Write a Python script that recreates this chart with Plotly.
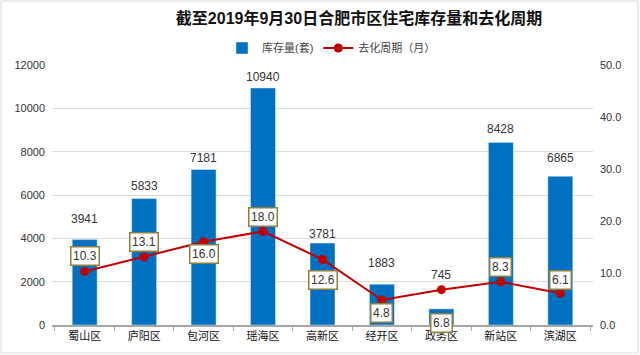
import plotly.graph_objects as go

districts = ["蜀山区", "庐阳区", "包河区", "瑶海区", "高新区", "经开区", "政务区", "新站区", "滨湖区"]
stock = [3941, 5833, 7181, 10940, 3781, 1883, 745, 8428, 6865]
cycle = [10.3, 13.1, 16.0, 18.0, 12.6, 4.8, 6.8, 8.3, 6.1]
left_ticks = [0, 2000, 4000, 6000, 8000, 10000, 12000]
right_ticks = [0, 10, 20, 30, 40, 50]

# pixel offsets of labels relative to their marks (styling only)
stock_label_shift = [21, 13, 11, 11, 9, 21, 34, 13, 18]
cycle_label_shift = [15, 15, -12, 14, -21, -13, -33, 15, 13]

font_family = "Arial, Liberation Sans, Noto Sans CJK SC, sans-serif"

L, R, T, B = 52, 47, 65, 30
W, H = 640, 355
pw, ph = W - L - R, H - T - B

fig = go.Figure()
fig.add_trace(go.Bar(
    x=districts, y=stock, name="库存量(套)",
    marker=dict(color="#0070c0"),
))
fig.add_trace(go.Scatter(
    x=districts, y=cycle, name="去化周期（月）", yaxis="y2",
    mode="lines+markers",
    line=dict(color="#c00000", width=2),
    marker=dict(color="#c00000", size=9),
))

for d, v, s in zip(districts, stock, stock_label_shift):
    fig.add_annotation(
        x=d, y=v, xref="x", yref="y", text=str(v), showarrow=False,
        yshift=s, font=dict(size=12, color="#333333", family=font_family),
    )

for d, v, s in zip(districts, cycle, cycle_label_shift):
    fig.add_annotation(
        x=d, y=v, xref="x", yref="y2", text=f"{v:.1f}", showarrow=False,
        yshift=s,
        font=dict(size=12, color="#333333", family=font_family),
        bgcolor="white", bordercolor="#8c7f3f", borderwidth=1.5, borderpad=1.5,
    )

fig.update_layout(
    width=W, height=H,
    margin=dict(l=L, r=R, t=T, b=B),
    paper_bgcolor="white", plot_bgcolor="white",
    font=dict(family=font_family, color="#333333", size=11),
    title=dict(text="<b>截至2019年9月30日合肥市区住宅库存量和去化周期</b>",
               x=359 / W, xanchor="center", y=1 - 18 / H, yanchor="middle",
               font=dict(size=16, color="#111111")),
    legend=dict(orientation="h", x=(222 - L) / pw, xanchor="left",
                y=(T - 48) / ph + 1, yanchor="middle",
                font=dict(size=11, color="#444444"), itemwidth=30,
                bgcolor="rgba(0,0,0,0)"),
    bargap=0.58,
    showlegend=True,
    xaxis=dict(showline=True, linecolor="#a6a6a6", linewidth=1.5,
               ticks="outside", tickson="boundaries", tickcolor="#a6a6a6", ticklen=4,
               tickfont=dict(size=11, color="#111111")),
    yaxis=dict(range=[0, 12000], tickvals=left_ticks,
               ticktext=[str(t) for t in left_ticks], showgrid=True,
               gridcolor="#dddddd", zeroline=False,
               tickfont=dict(size=11, color="#333333"), ticks="", ticklabelstandoff=6),
    yaxis2=dict(range=[0, 50], tickvals=right_ticks, overlaying="y", side="right",
                showgrid=False, zeroline=False, tickformat=".1f",
                tickfont=dict(size=11, color="#333333"), ticklabelstandoff=6),
    shapes=[dict(type="rect", xref="paper", yref="paper",
                 x0=(1 - L) / pw, x1=(638 - L) / pw,
                 y0=(H - B - 353) / ph, y1=(H - B - 1) / ph,
                 line=dict(color="#d9d9d9", width=1))],
)

fig.write_html("out.html", config={"displayModeBar": False},
               post_script="document.body.style.margin='0';")
